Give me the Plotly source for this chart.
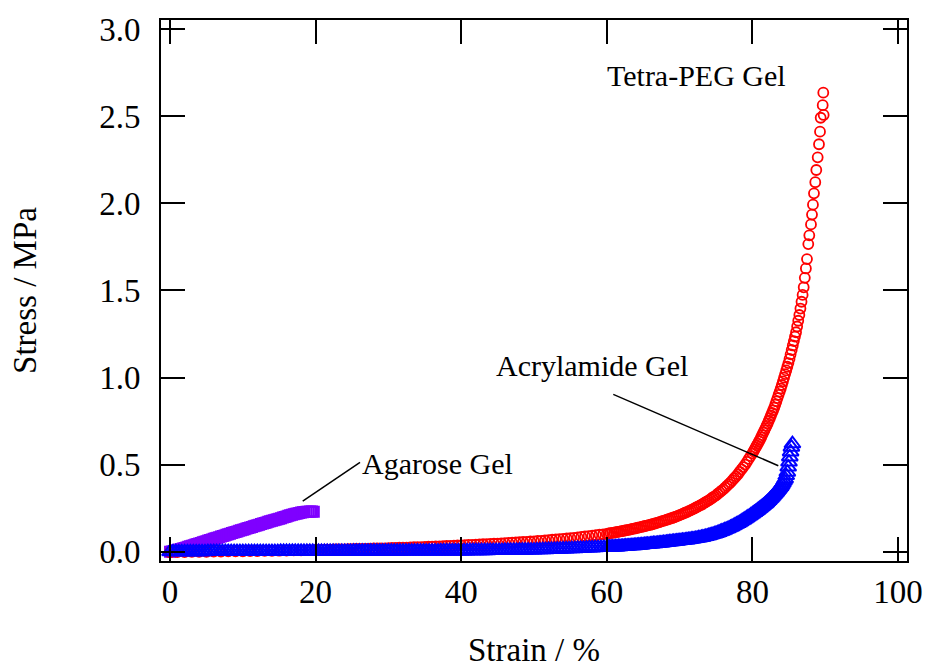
import plotly.graph_objects as go

FONT = "Liberation Serif, Times New Roman, serif"

# ---------------- data ----------------
# Tetra-PEG Gel (red open circles)
tetra_strain = [
    0, 1, 2, 3, 4, 5, 6, 7, 8, 9, 10, 11, 12, 13, 14, 15, 16, 17, 18, 19, 20,
    20.5, 21, 21.5, 22, 22.5, 23, 23.5, 24, 24.5, 25,
    25.5, 26, 26.5, 27, 27.5, 28, 28.5, 29, 29.5, 30,
    30.5, 31, 31.5, 32, 32.5, 33, 33.5, 34, 34.5, 35,
    35.5, 36, 36.5, 37, 37.5, 38, 38.5, 39, 39.5, 40,
    40.5, 41, 41.5, 42, 42.5, 43, 43.5, 44, 44.5, 45,
    45.5, 46, 46.5, 47, 47.5, 48, 48.5, 49, 49.5, 50,
    50.5, 51, 51.5, 52, 52.5, 53, 53.5, 54, 54.5, 55,
    55.5, 56, 56.5, 57, 57.5, 58, 58.5, 59, 59.5, 60,
    60.25, 60.5, 60.75, 61, 61.25, 61.5, 61.75, 62, 62.25, 62.5, 62.75, 63,
    63.25, 63.5, 63.75, 64, 64.25, 64.5, 64.75, 65, 65.25, 65.5, 65.75, 66,
    66.25, 66.5, 66.75, 67, 67.25, 67.5, 67.75, 68, 68.25, 68.5, 68.75, 69,
    69.25, 69.5, 69.75, 70, 70.25, 70.5, 70.75, 71, 71.25, 71.5, 71.75, 72,
    72.25, 72.5, 72.75, 73, 73.25, 73.5, 73.75, 74, 74.25, 74.5, 74.75, 75,
    75.25, 75.5, 75.75, 76, 76.25, 76.5, 76.75, 77, 77.25, 77.5, 77.75, 78,
    78.25, 78.5, 78.75, 79, 79.25, 79.5, 79.75, 80,
    80.15, 80.3, 80.45, 80.6, 80.75, 80.9,
    81.05, 81.2, 81.35, 81.5, 81.65, 81.8, 81.95,
    82.1, 82.25, 82.4, 82.55, 82.7, 82.85, 83.0,
    83.15, 83.3, 83.45, 83.6, 83.75, 83.9,
    84.05, 84.2, 84.35, 84.5, 84.65, 84.8, 84.95,
    85.1, 85.25, 85.4, 85.55, 85.7, 85.85, 86.0,
    86.15, 86.3, 86.45, 86.6, 86.75, 86.9,
    87.05, 87.2, 87.35, 87.5,
    87.68, 87.82, 88.05, 88.19, 88.32, 88.46, 88.64, 88.78, 88.97, 89.15,
    89.29, 89.38, 89.79, 89.66, 89.74,
]
tetra_stress = [
    -0.003, -0.002, -0.002, -0.001, -0.001, 0.000, 0.001, 0.001, 0.002, 0.002, 0.003,
    0.004, 0.004, 0.005, 0.005, 0.006, 0.007, 0.008, 0.008, 0.009, 0.010,
    0.011, 0.011, 0.012, 0.012, 0.013, 0.013, 0.014, 0.014, 0.015, 0.015,
    0.016, 0.016, 0.017, 0.017, 0.018, 0.019, 0.019, 0.020, 0.020, 0.021,
    0.022, 0.022, 0.023, 0.024, 0.024, 0.025, 0.026, 0.027, 0.027, 0.028,
    0.029, 0.030, 0.031, 0.031, 0.032, 0.033, 0.034, 0.035, 0.036, 0.037,
    0.038, 0.039, 0.040, 0.041, 0.042, 0.043, 0.044, 0.045, 0.046, 0.047,
    0.048, 0.050, 0.051, 0.052, 0.054, 0.055, 0.056, 0.057, 0.059, 0.060,
    0.062, 0.063, 0.065, 0.067, 0.069, 0.071, 0.072, 0.074, 0.076, 0.078,
    0.080, 0.083, 0.085, 0.088, 0.090, 0.093, 0.095, 0.098, 0.100, 0.103,
    0.105, 0.107, 0.108, 0.110, 0.112, 0.114, 0.116, 0.118, 0.120, 0.122, 0.124, 0.126,
    0.128, 0.131, 0.133, 0.135, 0.138, 0.140, 0.143, 0.145, 0.148, 0.150, 0.153, 0.155,
    0.158, 0.161, 0.164, 0.167, 0.170, 0.174, 0.177, 0.180, 0.184, 0.187, 0.191, 0.194,
    0.198, 0.202, 0.206, 0.210, 0.215, 0.219, 0.224, 0.228, 0.233, 0.238, 0.243, 0.248,
    0.254, 0.259, 0.265, 0.270, 0.276, 0.283, 0.289, 0.295, 0.302, 0.310, 0.317, 0.324,
    0.333, 0.341, 0.350, 0.358, 0.368, 0.378, 0.388, 0.398, 0.410, 0.422, 0.433, 0.445,
    0.459, 0.473, 0.486, 0.500, 0.516, 0.533, 0.549, 0.565,
    0.576, 0.588, 0.599, 0.610, 0.621, 0.633,
    0.644, 0.657, 0.670, 0.684, 0.697, 0.710, 0.723,
    0.737, 0.752, 0.767, 0.782, 0.797, 0.812, 0.827,
    0.845, 0.864, 0.882, 0.901, 0.919, 0.937,
    0.957, 0.978, 0.999, 1.020, 1.041, 1.062, 1.083,
    1.107, 1.133, 1.158, 1.184, 1.209, 1.235, 1.260,
    1.293, 1.326, 1.359, 1.396, 1.435, 1.474,
    1.518, 1.572, 1.626, 1.680,
    1.766, 1.816, 1.879, 1.935, 1.992, 2.057, 2.121, 2.191, 2.264, 2.339,
    2.411, 2.491, 2.507, 2.563, 2.635,
]

# Acrylamide Gel (blue open triangles)
acryl_strain = [
    0.0, 0.4, 0.8, 1.2, 1.6, 2.0, 2.4, 2.8, 3.2, 3.6,
    4.0, 4.4, 4.8, 5.2, 5.6, 6.0, 6.4, 6.8, 7.2, 7.6,
    8.0, 8.4, 8.8, 9.2, 9.6, 10.0, 10.4, 10.8, 11.2, 11.6,
    12.0, 12.4, 12.8, 13.2, 13.6, 14.0, 14.4, 14.8, 15.2, 15.6,
    16.0, 16.4, 16.8, 17.2, 17.6, 18.0, 18.4, 18.8, 19.2, 19.6,
    20.0, 20.4, 20.8, 21.2, 21.6, 22.0, 22.4, 22.8, 23.2, 23.6,
    24.0, 24.4, 24.8, 25.2, 25.6, 26.0, 26.4, 26.8, 27.2, 27.6,
    28.0, 28.4, 28.8, 29.2, 29.6, 30.0, 30.4, 30.8, 31.2, 31.6,
    32.0, 32.4, 32.8, 33.2, 33.6, 34.0, 34.4, 34.8, 35.2, 35.6,
    36.0, 36.4, 36.8, 37.2, 37.6, 38.0, 38.4, 38.8, 39.2, 39.6,
    40.0, 40.4, 40.8, 41.2, 41.6, 42.0, 42.4, 42.8, 43.2, 43.6,
    44.0, 44.4, 44.8, 45.2, 45.6, 46.0, 46.4, 46.8, 47.2, 47.6,
    48.0, 48.4, 48.8, 49.2, 49.6, 50.0, 50.4, 50.8, 51.2, 51.6,
    52.0, 52.4, 52.8, 53.2, 53.6, 54.0, 54.4, 54.8, 55.2, 55.6,
    56.0, 56.4, 56.8, 57.2, 57.6, 58.0, 58.4, 58.8, 59.2, 59.6,
    60.0,
    60.2, 60.4, 60.6, 60.8, 61.0, 61.2, 61.4, 61.6, 61.8, 62.0,
    62.2, 62.4, 62.6, 62.8, 63.0, 63.2, 63.4, 63.6, 63.8, 64.0,
    64.2, 64.4, 64.6, 64.8, 65.0, 65.2, 65.4, 65.6, 65.8, 66.0,
    66.2, 66.4, 66.6, 66.8, 67.0, 67.2, 67.4, 67.6, 67.8, 68.0,
    68.2, 68.4, 68.6, 68.8, 69.0, 69.2, 69.4, 69.6, 69.8, 70.0,
    70.2, 70.4, 70.6, 70.8, 71.0, 71.2, 71.4, 71.6, 71.8, 72.0,
    72.2, 72.4, 72.6, 72.8, 73.0, 73.2, 73.4, 73.6, 73.8, 74.0,
    74.2, 74.4, 74.6, 74.8, 75.0, 75.2, 75.4, 75.6, 75.8, 76.0,
    76.2, 76.4, 76.6, 76.8, 77.0, 77.2, 77.4, 77.6, 77.8, 78.0,
    78.2, 78.4, 78.6, 78.8, 79.0, 79.2, 79.4, 79.6, 79.8, 80.0,
    80.15, 80.3, 80.45, 80.6, 80.75, 80.9, 81.05, 81.2, 81.35, 81.5,
    81.65, 81.8, 81.95, 82.1, 82.25, 82.4, 82.55, 82.7, 82.85, 83.0,
    83.15, 83.3, 83.45, 83.6, 83.75, 83.9, 84.05, 84.2, 84.35, 84.5,
    84.65,
    84.80, 84.92, 85.03, 85.14, 85.25, 85.36, 85.50,
]
acryl_stress = [
    0.000, 0.000, 0.000, 0.000, 0.000, 0.000, 0.000, 0.000, 0.000, 0.000,
    0.000, 0.000, 0.000, 0.001, 0.001, 0.001, 0.001, 0.001, 0.001, 0.001,
    0.001, 0.001, 0.001, 0.001, 0.001, 0.001, 0.001, 0.001, 0.001, 0.001,
    0.001, 0.001, 0.001, 0.001, 0.001, 0.001, 0.001, 0.001, 0.002, 0.002,
    0.002, 0.002, 0.002, 0.002, 0.002, 0.002, 0.002, 0.002, 0.002, 0.002,
    0.002, 0.002, 0.002, 0.002, 0.002, 0.002, 0.002, 0.002, 0.002, 0.002,
    0.002, 0.002, 0.002, 0.003, 0.003, 0.003, 0.003, 0.003, 0.003, 0.003,
    0.003, 0.003, 0.003, 0.003, 0.003, 0.003, 0.003, 0.003, 0.003, 0.003,
    0.004, 0.004, 0.004, 0.004, 0.004, 0.004, 0.004, 0.004, 0.004, 0.004,
    0.004, 0.004, 0.004, 0.005, 0.005, 0.005, 0.005, 0.005, 0.005, 0.005,
    0.005, 0.005, 0.005, 0.006, 0.006, 0.006, 0.006, 0.006, 0.006, 0.006,
    0.007, 0.007, 0.007, 0.007, 0.007, 0.008, 0.008, 0.008, 0.008, 0.008,
    0.009, 0.009, 0.009, 0.010, 0.010, 0.010, 0.011, 0.011, 0.012, 0.012,
    0.013, 0.013, 0.014, 0.015, 0.015, 0.016, 0.016, 0.017, 0.018, 0.018,
    0.019, 0.020, 0.020, 0.021, 0.022, 0.022, 0.023, 0.024, 0.024, 0.025,
    0.025,
    0.025, 0.026, 0.026, 0.027, 0.027, 0.028, 0.028, 0.029, 0.029, 0.030,
    0.031, 0.031, 0.032, 0.032, 0.033, 0.034, 0.034, 0.035, 0.035, 0.036,
    0.037, 0.038, 0.038, 0.039, 0.040, 0.041, 0.042, 0.042, 0.043, 0.044,
    0.045, 0.046, 0.046, 0.047, 0.048, 0.049, 0.050, 0.051, 0.052, 0.053,
    0.054, 0.055, 0.056, 0.057, 0.058, 0.059, 0.060, 0.061, 0.062, 0.063,
    0.064, 0.065, 0.066, 0.067, 0.068, 0.069, 0.070, 0.072, 0.073, 0.074,
    0.076, 0.077, 0.079, 0.080, 0.082, 0.084, 0.086, 0.088, 0.090, 0.092,
    0.095, 0.097, 0.100, 0.102, 0.105, 0.108, 0.111, 0.115, 0.118, 0.121,
    0.125, 0.129, 0.132, 0.136, 0.140, 0.144, 0.149, 0.153, 0.158, 0.162,
    0.167, 0.172, 0.178, 0.183, 0.188, 0.194, 0.200, 0.205, 0.211, 0.217,
    0.222, 0.226, 0.231, 0.235, 0.240, 0.245, 0.250, 0.255, 0.260, 0.265,
    0.271, 0.276, 0.282, 0.288, 0.294, 0.301, 0.307, 0.314, 0.321, 0.328,
    0.336, 0.343, 0.351, 0.359, 0.367, 0.375, 0.385, 0.396, 0.407, 0.418,
    0.437,
    0.457, 0.486, 0.515, 0.544, 0.573, 0.600, 0.620,
]

# Agarose Gel (purple open squares)
agarose_strain = [
    0.0, 0.25, 0.5, 0.75, 1.0, 1.25, 1.5, 1.75, 2.0, 2.25, 2.5, 2.75, 3.0,
    3.25, 3.5, 3.75, 4.0, 4.25, 4.5, 4.75, 5.0, 5.25, 5.5, 5.75, 6.0,
    6.25, 6.5, 6.75, 7.0, 7.25, 7.5, 7.75, 8.0, 8.25, 8.5, 8.75, 9.0,
    9.25, 9.5, 9.75, 10.0, 10.25, 10.5, 10.75, 11.0, 11.25, 11.5, 11.75, 12.0,
    12.25, 12.5, 12.75, 13.0, 13.25, 13.5, 13.75, 14.0, 14.25, 14.5, 14.75, 15.0,
    15.25, 15.5, 15.75, 16.0, 16.25, 16.5, 16.75, 17.0, 17.25, 17.5, 17.75, 18.0,
    18.25, 18.5, 18.75, 19.0, 19.25, 19.5, 19.75,
]
agarose_stress = [
    0.000, 0.002, 0.005, 0.007, 0.010, 0.013, 0.016, 0.019, 0.022, 0.025, 0.029, 0.032, 0.035,
    0.038, 0.042, 0.045, 0.048, 0.051, 0.055, 0.058, 0.061, 0.064, 0.068, 0.071, 0.074,
    0.077, 0.081, 0.084, 0.087, 0.090, 0.094, 0.097, 0.100, 0.103, 0.107, 0.110, 0.113,
    0.116, 0.120, 0.123, 0.126, 0.129, 0.133, 0.136, 0.139, 0.142, 0.146, 0.149, 0.152,
    0.155, 0.159, 0.162, 0.165, 0.168, 0.172, 0.175, 0.178, 0.181, 0.184, 0.187, 0.190,
    0.193, 0.197, 0.200, 0.203, 0.206, 0.209, 0.212, 0.215, 0.218, 0.220, 0.223, 0.225,
    0.227, 0.228, 0.229, 0.230, 0.231, 0.231, 0.230,
]

# axis ticks
x_tick_vals = [0, 20, 40, 60, 80, 100]
x_tick_text = ["0", "20", "40", "60", "80", "100"]
y_tick_vals = [0.0, 0.5, 1.0, 1.5, 2.0, 2.5, 3.0]
y_tick_text = ["0.0", "0.5", "1.0", "1.5", "2.0", "2.5", "3.0"]

# labels (text, strain, stress) and their leader lines
label_text = ["Tetra-PEG Gel", "Acrylamide Gel", "Agarose Gel"]
label_x = [72.3, 57.9, 36.7]
label_y = [2.731, 1.067, 0.507]
acryl_line_x = [60.89, 83.56]
acryl_line_y = [0.903, 0.494]
agarose_line_x = [26.10, 18.23]
agarose_line_y = [0.513, 0.291]

assert len(tetra_strain) == len(tetra_stress)
assert len(acryl_strain) == len(acryl_stress)
assert len(agarose_strain) == len(agarose_stress)

# ---------------- figure ----------------
fig = go.Figure()

fig.add_trace(go.Scatter(
    x=agarose_strain, y=agarose_stress, mode="markers", name="Agarose Gel",
    marker=dict(symbol="square-open", size=10, color="#7F00FF",
                line=dict(width=2, color="#7F00FF")),
    hoverinfo="skip", showlegend=False))
fig.add_trace(go.Scatter(
    x=tetra_strain, y=tetra_stress, mode="markers", name="Tetra-PEG Gel",
    marker=dict(symbol="circle-open", size=10, color="#FF0000",
                line=dict(width=1.8, color="#FF0000")),
    hoverinfo="skip", showlegend=False))
fig.add_trace(go.Scatter(
    x=acryl_strain, y=acryl_stress, mode="markers", name="Acrylamide Gel",
    marker=dict(symbol="triangle-up-open", size=14, color="#0000FF",
                line=dict(width=2, color="#0000FF")),
    hoverinfo="skip", showlegend=False))

for lx, ly in ((acryl_line_x, acryl_line_y), (agarose_line_x, agarose_line_y)):
    fig.add_trace(go.Scatter(x=lx, y=ly, mode="lines",
                             line=dict(color="black", width=1.5),
                             hoverinfo="skip", showlegend=False))

for t, ax_, ay_ in zip(label_text, label_x, label_y):
    fig.add_annotation(x=ax_, y=ay_, xref="x", yref="y", text=t, showarrow=False,
                       xanchor="center", yanchor="middle",
                       font=dict(family=FONT, size=30, color="black"))

axis_style = dict(
    showline=True, linewidth=2, linecolor="black", mirror="ticks",
    ticks="inside", ticklen=24, tickwidth=2, tickcolor="black",
    showgrid=False, zeroline=False,
    tickfont=dict(family=FONT, size=33, color="black"),
)

fig.update_xaxes(
    range=[-1.24, 101.24], tickmode="array", tickvals=x_tick_vals, ticktext=x_tick_text,
    title=dict(text="Strain / %", font=dict(family=FONT, size=33, color="black"), standoff=48),
    ticklabelstandoff=0, automargin=False, **axis_style)
fig.update_yaxes(
    range=[-0.053, 3.052], tickmode="array", tickvals=y_tick_vals, ticktext=y_tick_text,
    title=dict(text="Stress / MPa", font=dict(family=FONT, size=33, color="black"), standoff=53),
    ticklabelstandoff=12, automargin=False, **axis_style)

fig.update_layout(
    width=925, height=668, autosize=False,
    margin=dict(l=161, r=18, t=20, b=107, pad=0),
    paper_bgcolor="white", plot_bgcolor="white",
    font=dict(family=FONT, color="black"),
    showlegend=False,
)

fig.write_html("out.html")
